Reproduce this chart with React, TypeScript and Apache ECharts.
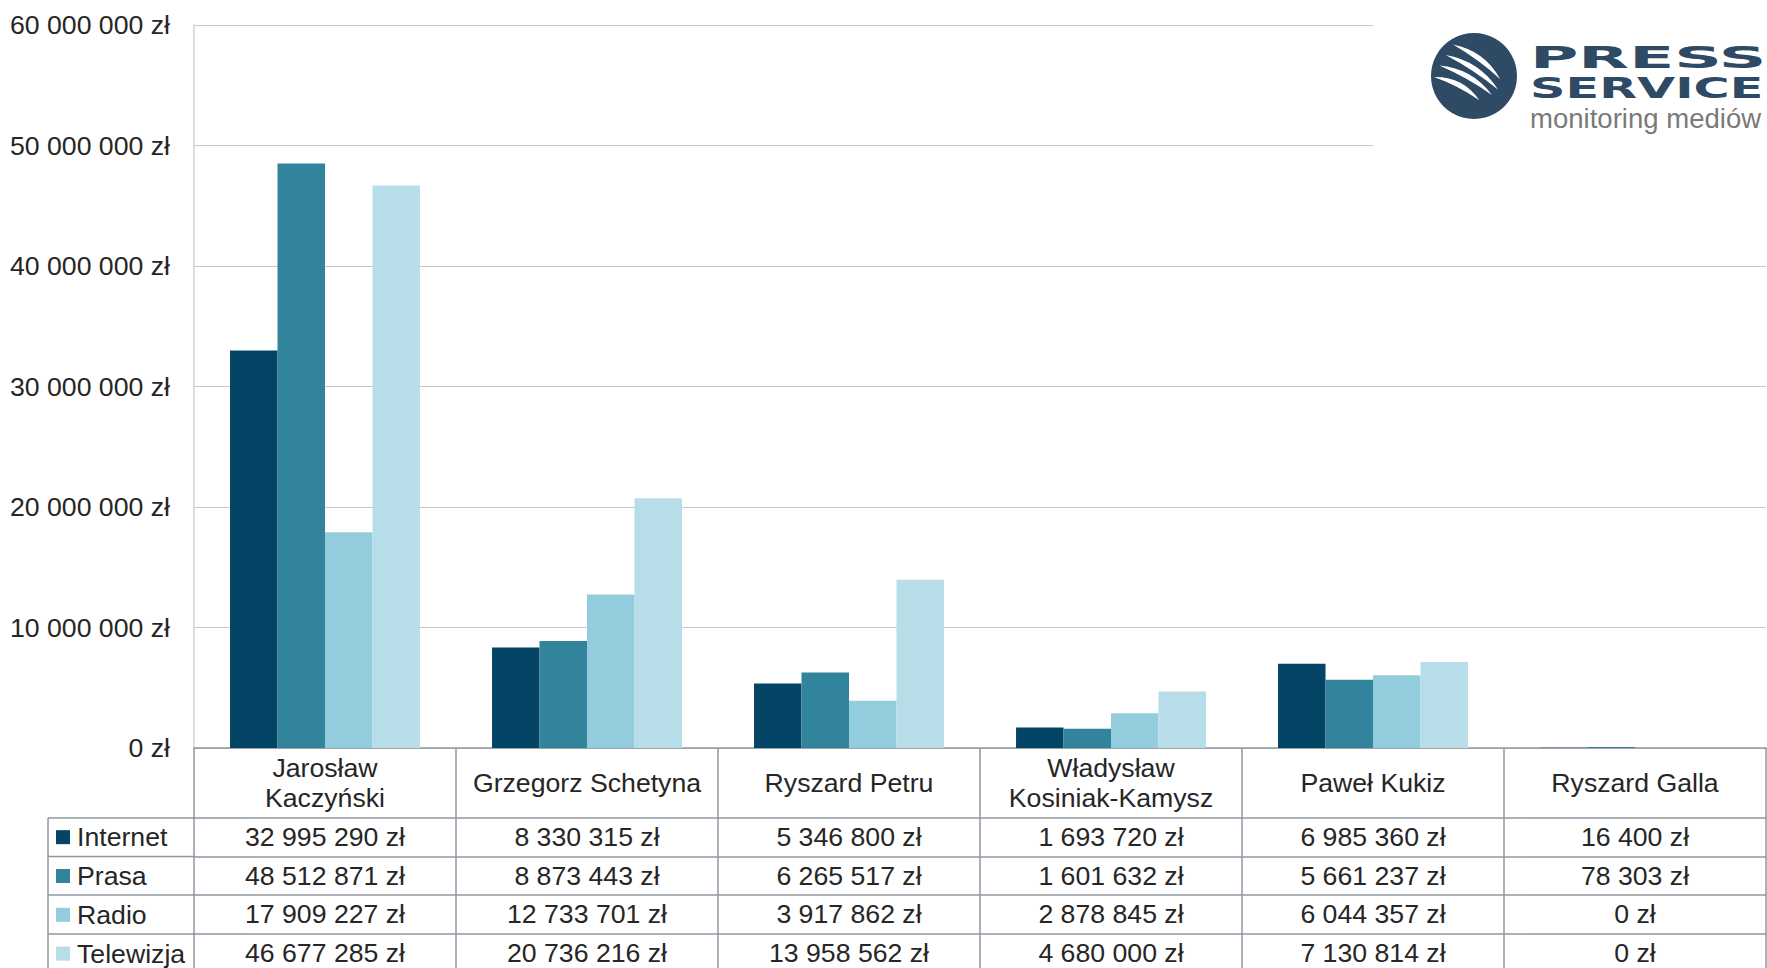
import React, { useEffect, useRef } from "react";
import * as echarts from "echarts";

const categories = [
  "Jarosław\nKaczyński",
  "Grzegorz Schetyna",
  "Ryszard Petru",
  "Władysław\nKosiniak-Kamysz",
  "Paweł Kukiz",
  "Ryszard Galla",
];
const seriesNames = ["Internet", "Prasa", "Radio", "Telewizja"];
const internet = [32995290, 8330315, 5346800, 1693720, 6985360, 16400];
const prasa = [48512871, 8873443, 6265517, 1601632, 5661237, 78303];
const radio = [17909227, 12733701, 3917862, 2878845, 6044357, 0];
const telewizja = [46677285, 20736216, 13958562, 4680000, 7130814, 0];
const seriesValues = [internet, prasa, radio, telewizja];
const seriesColors = ["#044464", "#31849B", "#93CDDD", "#B7DEE8"];
const yMin = 0;
const yMax = 60000000;
const yInterval = 10000000;

const fmt = (n: number) =>
  String(Math.round(n)).replace(/\B(?=(\d{3})+(?!\d))/g, " ") + " zł";

const SWOOSH_D =
  "M-20,-30 Q10.2,-24 25,3 Q4.3,-15.9 -20,-30 Z " +
  "M-27,-20 Q5.2,-14.4 23,13 Q-0.3,-6 -27,-20 Z " +
  "M-33,-10 Q-1.6,-7.3 17,18 Q-6.5,1.4 -33,-10 Z " +
  "M-38,1 Q-10.6,0.4 5,23 Q-15.1,9.3 -38,1 Z";

let registered = false;
function registerLogo() {
  if (registered) return;
  registered = true;
  echarts.graphic.registerShape(
    "pressSwoosh",
    echarts.graphic.extendPath(SWOOSH_D, {}) as any
  );
}

const FONT = "'Liberation Sans', Arial, sans-serif";
const FS = 26.67;
const TEXT_COLOR = "#262626";
const TABLE_LINE = "#8E97A2";
const LOGO_BLUE = "#2E4A64";

export default function App() {
  const ref = useRef<HTMLDivElement>(null);
  useEffect(() => {
    if (!ref.current) return;
    registerLogo();
    const chart = echarts.init(ref.current, undefined, { renderer: "svg" });

    const gridLeft = 194;
    const gridTop = 25;
    const gridBottomY = 748;
    const H = 968;
    const rowOffsets = [70, 108.5, 147, 186];

    const xAxes: any[] = [
      {
        type: "category",
        data: categories,
        position: "bottom",
        gridIndex: 0,
        axisLine: { show: true, lineStyle: { color: TABLE_LINE, width: 1.5 } },
        axisTick: {
          show: true,
          interval: 0,
          length: 230,
          lineStyle: { color: TABLE_LINE, width: 1.5 },
        },
        axisLabel: {
          interval: 0,
          margin: 35,
          verticalAlign: "middle",
          fontSize: FS,
          lineHeight: 30,
          color: TEXT_COLOR,
          fontFamily: FONT,
        },
        splitLine: { show: false },
      },
    ];
    seriesValues.forEach((vals, i) => {
      xAxes.push({
        type: "category",
        data: categories,
        position: "bottom",
        gridIndex: 0,
        offset: rowOffsets[i],
        axisLine: { show: true, lineStyle: { color: TABLE_LINE, width: 1.5 } },
        axisTick: { show: false },
        splitLine: { show: false },
        axisLabel: {
          interval: 0,
          margin: 19,
          verticalAlign: "middle",
          fontSize: FS,
          color: TEXT_COLOR,
          fontFamily: FONT,
          formatter: (_v: string, idx: number) => fmt(vals[idx]),
        },
      });
    });

    const graphic: any[] = [
      {
        type: "rect",
        z: 100,
        shape: { x: 1373, y: 0, width: 400, height: 200 },
        style: { fill: "#ffffff" },
      },
      {
        type: "circle",
        z: 101,
        shape: { cx: 1474, cy: 76, r: 43 },
        style: { fill: LOGO_BLUE },
      },
      {
        type: "pressSwoosh",
        z: 102,
        x: 1474,
        y: 76,
        scaleX: 1.05,
        scaleY: 1.05,
        style: { fill: "#ffffff" },
      },
      {
        type: "text",
        z: 101,
        x: 1530,
        y: 57,
        scaleX: 2.2,
        style: {
          text: "PRESS",
          fontSize: 30,
          fontWeight: "bold",
          fontFamily: "'DejaVu Sans'",
          fill: LOGO_BLUE,
          align: "left",
          verticalAlign: "middle",
        },
      },
      {
        type: "text",
        z: 101,
        x: 1530,
        y: 88,
        scaleX: 1.76,
        style: {
          text: "SERVICE",
          fontSize: 28,
          fontWeight: "bold",
          fontFamily: "'DejaVu Sans'",
          fill: LOGO_BLUE,
          align: "left",
          verticalAlign: "middle",
        },
      },
      {
        type: "text",
        z: 101,
        x: 1530,
        y: 119,
        scaleX: 1.02,
        style: {
          text: "monitoring mediów",
          fontSize: 27,
          fontFamily: FONT,
          fill: "#7A7A7A",
          align: "left",
          verticalAlign: "middle",
        },
      },
    ];
    // legend column lines
    const rowLineYs = rowOffsets.map((o) => gridBottomY + o);
    rowLineYs.forEach((y) => {
      graphic.push({
        type: "line",
        z: 50,
        shape: { x1: 48, y1: y, x2: gridLeft, y2: y },
        style: { stroke: TABLE_LINE, lineWidth: 1.5 },
      });
    });
    graphic.push({
      type: "line",
      z: 50,
      shape: { x1: 48, y1: rowLineYs[0], x2: 48, y2: H + 5 },
      style: { stroke: TABLE_LINE, lineWidth: 1.5 },
    });

    chart.setOption({
      animation: false,
      backgroundColor: "#ffffff",
      textStyle: { fontFamily: FONT },
      grid: {
        left: gridLeft,
        right: 1,
        top: gridTop,
        bottom: H - gridBottomY,
        containLabel: false,
      },
      legend: {
        orient: "vertical",
        left: 56,
        top: 837 - FS / 2,
        padding: 0,
        itemWidth: 14,
        itemHeight: 14,
        itemGap: 38.5 - FS,
        icon: "rect",
        selectedMode: false,
        data: seriesNames,
        textStyle: {
          fontSize: FS,
          lineHeight: FS,
          color: TEXT_COLOR,
          fontFamily: FONT,
          padding: [0, 0, 0, 2],
        },
      },
      xAxis: xAxes,
      yAxis: {
        type: "value",
        min: yMin,
        max: yMax,
        interval: yInterval,
        axisLine: { show: true, lineStyle: { color: "#D0D4D8", width: 1.5 } },
        axisTick: { show: false },
        splitLine: { show: true, lineStyle: { color: "#C4C8CC", width: 1 } },
        axisLabel: {
          margin: 24,
          fontSize: FS,
          color: TEXT_COLOR,
          fontFamily: FONT,
          formatter: (v: number) => fmt(v),
        },
      },
      series: seriesNames.map((name, i) => ({
        name,
        type: "bar",
        xAxisIndex: 0,
        data: seriesValues[i],
        itemStyle: { color: seriesColors[i] },
        barGap: "0%",
        barCategoryGap: "27.5%",
      })),
      graphic,
    });
    return () => chart.dispose();
  }, []);
  return (
    <div
      ref={ref}
      style={{ position: "fixed", left: 0, top: 0, width: 1767, height: 968 }}
    />
  );
}
